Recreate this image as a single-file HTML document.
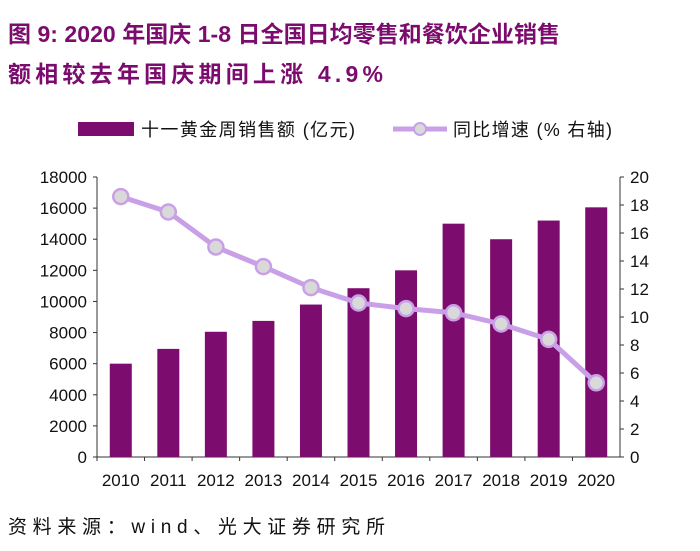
<!DOCTYPE html>
<html><head><meta charset="utf-8"><style>
body{margin:0;background:#fff;width:700px;height:546px;overflow:hidden;font-family:"Liberation Sans","Noto Sans CJK SC",sans-serif}
</style></head><body>
<svg width="700" height="546" xmlns="http://www.w3.org/2000/svg" font-family="Liberation Sans, Noto Sans CJK SC, sans-serif">
<text x="8" y="42" font-size="23" font-weight="bold" fill="#7b0c6e" textLength="552" lengthAdjust="spacing">图 9: 2020 年国庆 1-8 日全国日均零售和餐饮企业销售</text>
<text x="8" y="82" font-size="23" font-weight="bold" fill="#7b0c6e" textLength="375" lengthAdjust="spacing">额相较去年国庆期间上涨 4.9%</text>
<g>
<rect x="78" y="122" width="56" height="14" fill="#7d0c6f"/>
<text x="141" y="136" font-size="18" fill="#111" textLength="214" lengthAdjust="spacing">十一黄金周销售额 (亿元)</text>
<line x1="393" y1="129" x2="447" y2="129" stroke="#c9a0e8" stroke-width="5"/>
<circle cx="420" cy="129" r="6" fill="#d9d9d9" stroke="#c9a0e8" stroke-width="2"/>
<text x="453" y="136" font-size="18" fill="#111" textLength="159" lengthAdjust="spacing">同比增速 (% 右轴)</text>
</g>
<g id="axes"></g>
<g id="bars"></g>
<g id="line"></g>
<text x="8" y="533" font-size="19" fill="#111" textLength="377" lengthAdjust="spacing">资料来源：wind、光大证券研究所</text>
</svg>
<script>
const categories=["2010","2011","2012","2013","2014","2015","2016","2017","2018","2019","2020"];
const salesValues=[6000,6950,8050,8750,9800,10850,12000,15000,14000,15200,16050];
const growthValues=[18.6,17.5,15.0,13.6,12.1,11.0,10.6,10.3,9.5,8.4,5.3];
const leftTicks=[0,2000,4000,6000,8000,10000,12000,14000,16000,18000];
const rightTicks=[0,2,4,6,8,10,12,14,16,18,20];
const NS="http://www.w3.org/2000/svg";
const X0=97,X1=620,Y0=457,Y1=177;
const step=(X1-X0)/categories.length;
const xC=i=>X0+step*(i+0.5);
const yL=v=>Y0-(v/18000)*(Y0-Y1);
const yR=v=>Y0-(v/20)*(Y0-Y1);
function mk(tag,attrs,parent){const e=document.createElementNS(NS,tag);for(const k in attrs)e.setAttribute(k,attrs[k]);parent.appendChild(e);return e;}
const ax=document.getElementById('axes');
let a=mk('line',{x1:X0,y1:Y1,x2:X0,y2:Y0,stroke:'#333','stroke-width':1},ax);


a=mk('line',{x1:X1,y1:Y1,x2:X1,y2:Y0,stroke:'#333','stroke-width':1},ax);


a=mk('line',{x1:X0,y1:Y0,x2:X1,y2:Y0,stroke:'#333','stroke-width':1},ax);


leftTicks.forEach(v=>{const y=yL(v);
mk('line',{x1:X0-4,y1:y,x2:X0,y2:y,stroke:'#333'},ax);
const t=mk('text',{x:X0-10,y:y+6,'font-size':17,'text-anchor':'end',fill:'#111'},ax);t.textContent=v;

});
rightTicks.forEach(v=>{const y=yR(v);
mk('line',{x1:X1,y1:y,x2:X1+4,y2:y,stroke:'#333'},ax);
const t=mk('text',{x:X1+10,y:y+6,'font-size':17,fill:'#111'},ax);t.textContent=v;

});
categories.forEach((c,i)=>{
mk('line',{x1:X0+step*i,y1:Y0,x2:X0+step*i,y2:Y0+4,stroke:'#333'},ax);
const t=mk('text',{x:xC(i),y:Y0+29,'font-size':17,'text-anchor':'middle',fill:'#111'},ax);t.textContent=c;

});
const bg=document.getElementById('bars');
salesValues.forEach((v,i)=>{const r=mk('rect',{x:xC(i)-11,y:yL(v),width:22,height:Y0-yL(v),fill:'#7d0c6f'},bg);

});
const lg=document.getElementById('line');
const p=mk('polyline',{points:growthValues.map((v,i)=>xC(i)+','+yR(v)).join(' '),fill:'none',stroke:'#c9a0e8','stroke-width':5,'stroke-linejoin':'round'},lg);


growthValues.forEach((v,i)=>{const c=mk('circle',{cx:xC(i),cy:yR(v),r:7.5,fill:'#d9d9d9',stroke:'#c9a0e8','stroke-width':2.5},lg);

});
</script>
</body></html>
